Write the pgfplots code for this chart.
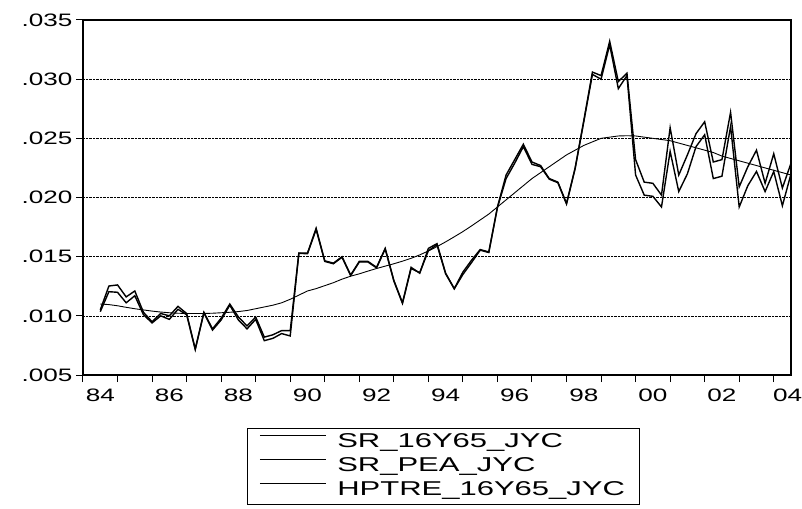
\documentclass[border=0pt]{standalone}
\usepackage{fontspec}
\setmainfont{Liberation Sans}[FakeStretch=1.45]
\newfontfamily\legfont{Liberation Sans}[FakeStretch=1.55]
\usepackage{pgfplots}
\usepackage{pgfplotstable}
\pgfplotsset{compat=1.18}

% quarterly, 1984Q3 - 2004Q3
\pgfplotstableread{
x a b t
1984.50 0.01050 0.01035 0.01100
1984.75 0.01252 0.01204 0.01095
1985.00 0.01261 0.01199 0.01085
1985.25 0.01160 0.01110 0.01072
1985.50 0.01210 0.01170 0.01060
1985.75 0.01030 0.01010 0.01050
1986.00 0.00950 0.00940 0.01040
1986.25 0.01020 0.01000 0.01032
1986.50 0.01000 0.00970 0.01026
1986.75 0.01080 0.01055 0.01022
1987.00 0.01020 0.01010 0.01020
1987.25 0.00720 0.00715 0.01020
1987.50 0.01030 0.01025 0.01020
1987.75 0.00890 0.00880 0.01022
1988.00 0.00980 0.00965 0.01026
1988.25 0.01100 0.01090 0.01030
1988.50 0.00990 0.00965 0.01036
1988.75 0.00915 0.00890 0.01045
1989.00 0.00990 0.00970 0.01060
1989.25 0.00820 0.00790 0.01075
1989.50 0.00840 0.00810 0.01090
1989.75 0.00875 0.00850 0.01110
1990.00 0.00875 0.00830 0.01140
1990.25 0.01530 0.01528 0.01175
1990.50 0.01530 0.01525 0.01210
1990.75 0.01740 0.01730 0.01230
1991.00 0.01465 0.01460 0.01255
1991.25 0.01445 0.01440 0.01280
1991.50 0.01500 0.01495 0.01310
1991.75 0.01345 0.01340 0.01335
1992.00 0.01460 0.01455 0.01355
1992.25 0.01460 0.01455 0.01378
1992.50 0.01410 0.01405 0.01400
1992.75 0.01570 0.01565 0.01420
1993.00 0.01300 0.01295 0.01440
1993.25 0.01110 0.01105 0.01462
1993.50 0.01410 0.01400 0.01486
1993.75 0.01360 0.01365 0.01515
1994.00 0.01570 0.01550 0.01548
1994.25 0.01610 0.01600 0.01585
1994.50 0.01360 0.01355 0.01625
1994.75 0.01230 0.01228 0.01668
1995.00 0.01370 0.01350 0.01712
1995.25 0.01470 0.01450 0.01760
1995.50 0.01560 0.01555 0.01810
1995.75 0.01540 0.01535 0.01860
1996.00 0.01920 0.01915 0.01920
1996.25 0.02190 0.02160 0.01980
1996.50 0.02320 0.02290 0.02040
1996.75 0.02450 0.02430 0.02100
1997.00 0.02300 0.02280 0.02160
1997.25 0.02270 0.02260 0.02210
1997.50 0.02160 0.02155 0.02260
1997.75 0.02130 0.02125 0.02310
1998.00 0.01950 0.01945 0.02360
1998.25 0.02250 0.02245 0.02400
1998.50 0.02650 0.02640 0.02440
1998.75 0.03060 0.03040 0.02470
1999.00 0.03030 0.03000 0.02500
1999.25 0.03320 0.03290 0.02510
1999.50 0.02980 0.02920 0.02520
1999.75 0.03050 0.03030 0.02522
2000.00 0.02320 0.02190 0.02520
2000.25 0.02130 0.02020 0.02510
2000.50 0.02120 0.02010 0.02500
2000.75 0.02020 0.01920 0.02490
2001.00 0.02590 0.02390 0.02480
2001.25 0.02190 0.02050 0.02460
2001.50 0.02360 0.02200 0.02440
2001.75 0.02540 0.02430 0.02420
2002.00 0.02640 0.02530 0.02400
2002.25 0.02300 0.02160 0.02380
2002.50 0.02320 0.02180 0.02350
2002.75 0.02720 0.02600 0.02330
2003.00 0.02090 0.01920 0.02310
2003.25 0.02260 0.02100 0.02290
2003.50 0.02400 0.02220 0.02270
2003.75 0.02120 0.02050 0.02250
2004.00 0.02370 0.02220 0.02230
2004.25 0.02080 0.01930 0.02210
2004.50 0.02290 0.02200 0.02190
}\jyc

\begin{document}
\begin{tikzpicture}
\begin{axis}[
    at={(0,0)}, anchor=south west,
    scale only axis, width=708pt, height=355pt,
    xmin=1984, xmax=2004.5,
    ymin=0.005, ymax=0.035,
    xtick={1984,1985,...,2004}, xticklabels={},
    extra x ticks={1984.5,1986.5,1988.5,1990.5,1992.5,1994.5,1996.5,1998.5,2000.5,2002.5,2004.4},
    extra x tick labels={84,86,88,90,92,94,96,98,00,02,04},
    extra x tick style={major tick length=0pt, grid=none,
        xticklabel style={yshift=-10pt}},
    ytick={0.005,0.010,0.015,0.020,0.025,0.030,0.035},
    yticklabels={.005,.010,.015,.020,.025,.030,.035},
    scaled y ticks=false,
    ymajorgrids, grid style={black, densely dotted, line width=0.6pt},
    tick pos=left, tick align=outside, major tick length=7pt,
    tick style={black, line width=1pt},
    axis line style={line width=1.3pt},
    ticklabel style={font=\fontsize{18}{20}\selectfont},
    legend style={at={(0.2316,-0.149)}, anchor=north west, draw=black, line width=1pt,
        font=\legfont\fontsize{20}{22}\selectfont, inner xsep=12pt, inner ysep=2pt,
        nodes={text height=15pt, text depth=5pt, inner ysep=2pt, inner xsep=2pt},
        /tikz/every odd column/.append style={column sep=9pt}},
    legend cell align=left,
    legend image code/.code={\draw[#1, line width=0.8pt] (0pt,7pt) -- (66pt,7pt);},
]
\addplot[black, line width=1.4pt] table[x=x, y=a] {\jyc};
\addlegendentry{SR\_16Y65\_JYC}
\addplot[black, line width=1.4pt] table[x=x, y=b] {\jyc};
\addlegendentry{SR\_PEA\_JYC}
\addplot[black, line width=0.9pt] table[x=x, y=t] {\jyc};
\addlegendentry{HPTRE\_16Y65\_JYC\hspace{49pt}}
\end{axis}
\pgfresetboundingbox
\path[use as bounding box] (-83pt,-133pt) rectangle (719pt,375pt);
\end{tikzpicture}
\end{document}
